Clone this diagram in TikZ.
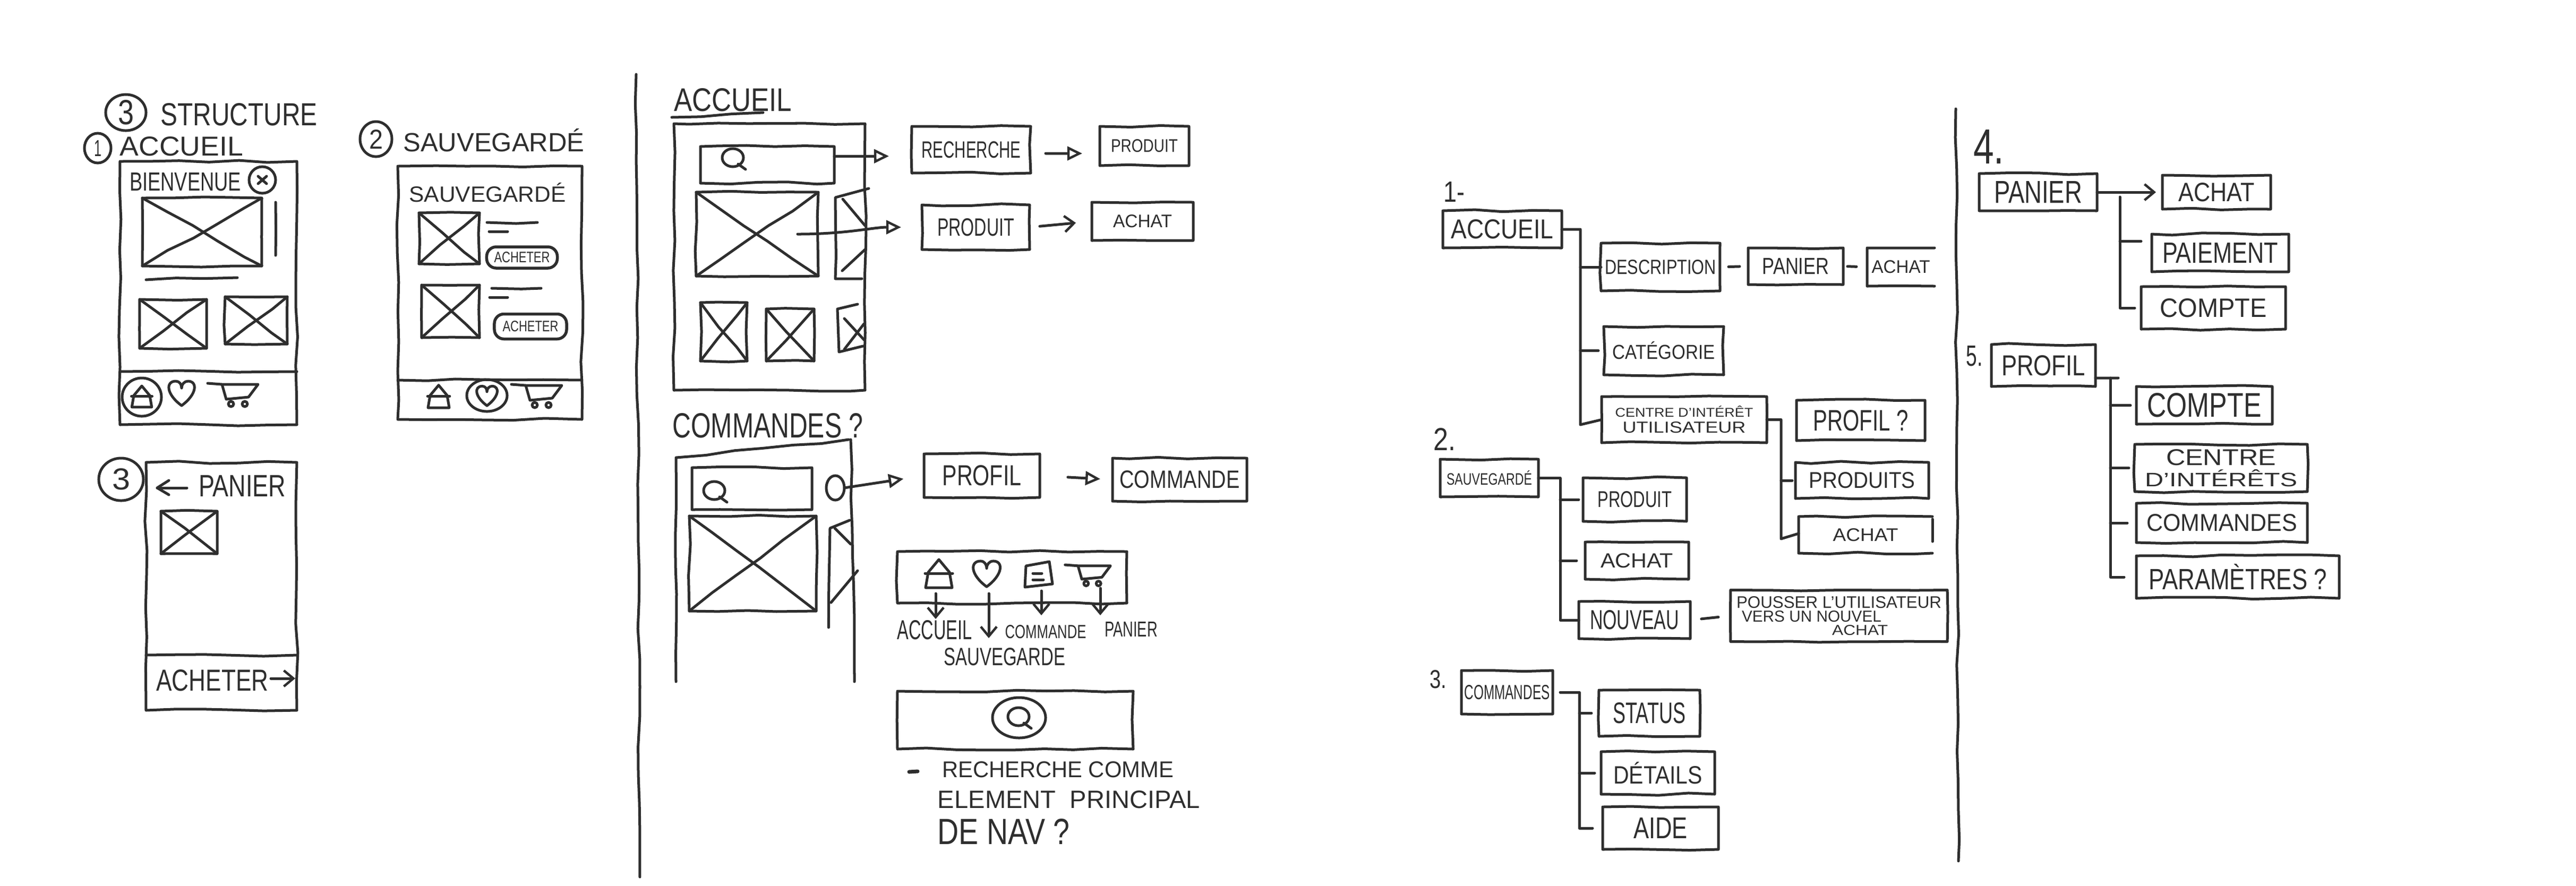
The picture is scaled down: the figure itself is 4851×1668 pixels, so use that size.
\documentclass[tikz,border=0pt]{standalone}
\usepackage{fontspec}
\usepackage{graphicx}
\setmainfont{Liberation Sans}
\usetikzlibrary{arrows.meta,decorations.pathmorphing,shapes.geometric,calc}
\definecolor{ink}{HTML}{2E2E2E}
\newlength\hwu \setlength\hwu{0.01cm}
\newcommand{\hw}[3]{\resizebox{#1\hwu}{#2\hwu}{\color{ink}#3}}
\tikzset{
  sk/.style={draw=ink,line width=.05cm,line cap=round,line join=round,decorate,
    decoration={random steps,segment length=.55cm,amplitude=.022cm}},
  skbox/.style={sk,rectangle,inner sep=0pt,outer sep=0pt,align=center},
  plainbox/.style={rectangle,inner sep=0pt,outer sep=0pt,align=center},
  lab/.style={inner sep=0pt,outer sep=0pt,align=center},
  circ/.style={ellipse,draw=ink,line width=.05cm,inner sep=0pt,outer sep=0pt},
  pill/.style={rectangle,draw=ink,line width=.055cm,rounded corners=.18cm,inner sep=0pt,outer sep=0pt},
  conn/.style={draw=ink,line width=.05cm,line cap=round,line join=round},
  tipopen/.style={conn,-{Triangle[open,length=.28cm,width=.26cm,line width=.045cm]}},
  tipbarb/.style={conn,-{Straight Barb[length=.18cm,width=.3cm,line width=.045cm]}},
  icon/.style={draw=ink,line width=.05cm,line cap=round,line join=round},
}
\newcommand{\bx}[6]{\node[skbox,minimum width={(#4-#2)*0.01cm},minimum height={(#5-#3)*0.01cm}] (#1) at ({(#2+#4)/2},{(#3+#5)/2}) {#6};}
\newcommand{\opn}[6]{\node[plainbox,minimum width={(#4-#2)*0.01cm},minimum height={(#5-#3)*0.01cm}] (#1) at ({(#2+#4)/2},{(#3+#5)/2}) {#6};
  \draw[sk] (#1.north east) -- (#1.north west) -- (#1.south west) -- (#1.south east);}
\newcommand{\ximg}[5]{\bx{#1}{#2}{#3}{#4}{#5}{}
  \draw[sk] (#1.north west) -- (#1.south east);
  \draw[sk] (#1.south west) -- (#1.north east);}
\newcommand{\lab}[6]{\node[lab] (#1) at (#2,#3) {\hw{#4}{#5}{#6}};}
\newcommand{\homeic}[3]{\begin{scope}[shift={(#1,#2)},scale=#3]
  \draw[icon] (-25,25) -- (-20,-4) -- (0,-28) -- (20,-4) -- (25,25) -- cycle;
  \draw[icon] (-26,-2) -- (26,-2);\end{scope}}
\newcommand{\heartic}[3]{\begin{scope}[shift={(#1,#2)},scale=#3]
  \draw[icon] (0,24) .. controls (-30,2) and (-30,-22) .. (-11,-22) .. controls (-4,-22) and (0,-16) .. (0,-9) .. controls (0,-16) and (5,-22) .. (12,-22) .. controls (30,-22) and (30,2) .. (0,24);\end{scope}}
\newcommand{\cartic}[3]{\begin{scope}[shift={(#1,#2)},scale=#3]
  \draw[icon] (-47,-20) -- (-20,-18) -- (-12,10) -- (30,6) -- (48,-18) -- (-20,-18);
  \draw[icon] (-3,19) circle [radius=5];
  \draw[icon] (23,19) circle [radius=5];\end{scope}}
\newcommand{\magic}[2]{\draw[icon] (#1,#2) ellipse [x radius=20,y radius=17];
  \draw[icon] (#1+10,#2+12) -- (#1+24,#2+22);}
\begin{document}
\begin{tikzpicture}[x=0.01cm,y=-0.01cm]
\pgfmathsetseed{12}
\useasboundingbox (0,0) rectangle (4851,1668);
% --- panel 1
\node[circ,minimum width=.76cm,minimum height=.68cm] (c0) at (237,212) {\hw{30}{46}{3}};
\lab{t0}{450}{216}{295}{42}{STRUCTURE}
\node[circ,minimum width=.5cm,minimum height=.56cm] (c1) at (184,279) {\hw{14}{30}{1}};
\lab{t1}{342}{276}{232}{36}{ACCUEIL}
\bx{phA}{226}{304}{559}{800}{}
\lab{t2}{349}{343}{210}{34}{BIENVENUE}
\node[circ,minimum width=.5cm,minimum height=.5cm] (cx) at (494,339) {};
\draw[icon] (486,332) -- (502,346) (502,332) -- (486,346);
\ximg{a1}{268}{373}{493}{501}
\draw[sk] (519,381) -- (519,481);
\draw[sk] (275,527) -- (447,523);
\ximg{a2}{263}{564}{389}{656}
\ximg{a3}{424}{559}{541}{648}
\draw[sk] (226,700) -- (559,700);
\node[circ,minimum width=.74cm,minimum height=.72cm] (c1h) at (267,748) {};
\homeic{267}{748}{0.75}
\heartic{342}{740}{1}
\cartic{438}{742}{1}
% phone B
\node[circ,minimum width=.6cm,minimum height=.66cm] (c2) at (708,262) {\hw{26}{36}{2}};
\lab{t3}{930}{264}{341}{43}{SAUVEGARDÉ}
\bx{phB}{749}{313}{1096}{790}{}
\lab{t4}{918}{363}{295}{36}{SAUVEGARDÉ}
\ximg{b1}{789}{401}{903}{497}
\draw[sk] (917,419) -- (1012,419);
\draw[sk] (921,436) -- (956,436);
\node[pill,minimum width=1.33cm,minimum height=.4cm] (btn1) at (983,485) {\hw{105}{20}{ACHETER}};
\ximg{b2}{794}{537}{903}{636}
\draw[sk] (926,543) -- (1019,543);
\draw[sk] (922,560) -- (956,560);
\node[pill,minimum width=1.36cm,minimum height=.47cm] (btn2) at (999,615) {\hw{105}{20}{ACHETER}};
\draw[sk] (749,716) -- (1096,716);
\homeic{826}{748}{0.8}
\node[circ,minimum width=.76cm,minimum height=.6cm] (c2h) at (917,745) {};
\heartic{917}{745}{0.8}
\cartic{1010}{744}{1}
% phone C
\node[circ,minimum width=.84cm,minimum height=.8cm] (c3) at (228,903) {\hw{34}{40}{3}};
\bx{phC}{275}{871}{559}{1338}{}
\draw[conn] (352,919) -- (296,919);
\draw[conn] (318,905) -- (296,919) -- (318,932);
\lab{t5}{456}{915}{164}{40}{PANIER}
\ximg{c1i}{303}{963}{409}{1043}
\draw[sk] (275,1234) -- (559,1234);
\lab{t6}{400}{1282}{211}{40}{ACHETER}
\draw[tipbarb] (510,1278) -- (556,1278);
% separator 1
\draw[sk] (1198,140) -- (1205,1652);
% --- panel 2 : accueil
\lab{t7}{1380}{188}{222}{43}{ACCUEIL}
\draw[sk] (1265,221) -- (1437,212);
\bx{phD}{1269}{233}{1629}{735}{}
\bx{sb}{1319}{276}{1571}{345}{}
\magic{1380}{297}
\ximg{d1}{1311}{362}{1541}{520}
\draw[sk] (1636,355) -- (1573,372) -- (1573,525) -- (1623,525);
\draw[sk] (1587,375) -- (1629,425);
\draw[sk] (1586,510) -- (1629,470);
\ximg{d2}{1319}{570}{1407}{680}
\ximg{d3}{1443}{582}{1533}{680}
\draw[sk] (1615,573) -- (1577,582) -- (1580,663) -- (1625,652);
\draw[sk] (1590,600) -- (1627,640);
\draw[sk] (1590,658) -- (1627,610);
\bx{rech}{1717}{238}{1941}{326}{\hw{187}{31}{RECHERCHE}}
\bx{prod1}{2071}{238}{2239}{312}{\hw{126}{24}{PRODUIT}}
\bx{prod2}{1736}{386}{1939}{470}{\hw{145}{33}{PRODUIT}}
\bx{ach1}{2056}{381}{2247}{453}{\hw{111}{24}{ACHAT}}
\coordinate (a2s) at (1502,441);
\draw[tipopen,shorten >=.43cm] ([yshift=.16cm]sb.east) -- ([yshift=-.12cm]rech.west);
\draw[tipopen,shorten >=.39cm] (a2s) to[out=0,in=180] (prod2.west);
\draw[tipopen,shorten <=.28cm,shorten >=.33cm] ([yshift=-.07cm]rech.east) -- ([yshift=-.14cm]prod1.west);
\draw[tipbarb,shorten <=.19cm,shorten >=.3cm] (prod2.east) -- (ach1.west);
% commandes
\lab{t8}{1446}{802}{359}{46}{COMMANDES ?}
\draw[sk] (1273,1284) -- (1273,862) -- (1598,828);
\draw[sk] (1602,828) -- (1609,1284);
\bx{sc}{1303}{881}{1529}{960}{}
\magic{1345}{924}
\node[circ,minimum width=.34cm,minimum height=.46cm] (gear) at (1573,919) {};
\ximg{e1}{1298}{972}{1537}{1151}
\draw[sk] (1600,980) -- (1563,995) -- (1561,1138) -- (1603,1125);
\draw[sk] (1572,995) -- (1602,1025);
\draw[sk] (1565,1135) -- (1615,1075);
\bx{prof}{1740}{855}{1958}{937}{\hw{149}{38}{PROFIL}}
\bx{cmd}{2095}{863}{2348}{944}{\hw{226}{33}{COMMANDE}}
\draw[tipopen,shorten >=.39cm] (gear.east) -- (prof.west);
\draw[tipopen,shorten <=.53cm,shorten >=.23cm] (prof.east) -- (cmd.west);
% nav bar
\bx{nav}{1690}{1039}{2122}{1136}{}
\homeic{1768}{1082}{1}
\heartic{1858}{1080}{1.05}
\draw[icon] (1932,1066) -- (1976,1058) -- (1982,1100) -- (1930,1106) -- cycle;
\draw[icon] (1945,1080) -- (1962,1080) (1945,1092) -- (1965,1092);
\cartic{2048}{1082}{0.9}
\node[lab] (l1) at (1760,1187) {\hw{141}{36}{ACCUEIL}};
\node[lab] (l2) at (1892,1237) {\hw{229}{33}{SAUVEGARDE}};
\node[lab] (l3) at (1969,1190) {\hw{153}{25}{COMMANDE}};
\node[lab] (l4) at (2130,1185) {\hw{100}{28}{PANIER}};
\coordinate (n1) at (1762,1118);
\coordinate (n2) at (1862,1118);
\coordinate (n3) at (1961,1113);
\coordinate (n4) at (2072,1108);
\draw[tipbarb] (n1) -- (1762,1166);
\draw[tipbarb] (n2) -- (1862,1202);
\draw[tipbarb] (n3) -- (1961,1159);
\draw[tipbarb] (n4) -- (2072,1159);
% search bar
\bx{snav}{1690}{1302}{2134}{1411}{}
\node[circ,minimum width=1cm,minimum height=.76cm] (sc2) at (1919,1352) {};
\magic{1918}{1350}
\draw[draw=ink,line width=.07cm,line cap=round] (1712,1454) -- (1728,1453);
\lab{t9}{1992}{1450}{436}{30}{RECHERCHE COMME}
\lab{t10}{2013}{1506}{494}{33}{ELEMENT \ PRINCIPAL}
\lab{t11}{1890}{1566}{249}{48}{DE NAV ?}
% --- panel 3 : arbre
\lab{n1l}{2738}{361}{40}{38}{1-}
\bx{acc}{2717}{397}{2941}{467}{\hw{193}{36}{ACCUEIL}}
\bx{desc}{3015}{458}{3239}{548}{\hw{210}{27}{DESCRIPTION}}
\bx{pan}{3292}{467}{3471}{536}{\hw{126}{30}{PANIER}}
\opn{ach2}{3516}{467}{3643}{539}{\hw{110}{24}{ACHAT}}
\bx{cat}{3020}{615}{3246}{706}{\hw{193}{33}{CATÉGORIE}}
\bx{cen}{3016}{747}{3327}{834}{\hw{260}{21}{CENTRE D'INTÉRÊT}\\[-.12cm]\hw{232}{21}{UTILISATEUR}}
\bx{pr3}{3383}{754}{3625}{830}{\hw{179}{39}{PROFIL ?}}
\bx{prs}{3381}{871}{3632}{939}{\hw{200}{30}{PRODUITS}}
\opn{ach3}{3387}{973}{3639}{1042}{\hw{123}{24}{ACHAT}}
\draw[sk] (3639,978) -- (3639,1020);
\coordinate (t1) at (2976,800);
\coordinate (t1b) at (3354,1015);
\draw[conn] (acc.east) -| (t1) -- (cen.west);
\draw[conn] (t1 |- desc.west) -- (desc.west);
\draw[conn,shorten >=.1cm] (t1 |- cat.west) -- (cat.west);
\draw[conn,shorten <=.16cm,shorten >=.16cm] (desc.east) -- (pan.west);
\draw[conn,shorten <=.08cm,shorten >=.2cm] (pan.east) -- (ach2.west);
\draw[conn] (cen.east) -| (t1b) -- ([yshift=.1cm]t1b -| ach3.west);
\draw[conn,shorten >=.06cm] (t1b |- prs.west) -- (prs.west);
\lab{n2l}{2720}{827}{42}{42}{2.}
\bx{sav}{2712}{865}{2897}{936}{\hw{161}{27}{SAUVEGARDÉ}}
\bx{pd3}{2981}{900}{3176}{982}{\hw{140}{30}{PRODUIT}}
\bx{ac4}{2985}{1021}{3180}{1091}{\hw{137}{27}{ACHAT}}
\bx{nou}{2973}{1133}{3183}{1203}{\hw{168}{36}{NOUVEAU}}
\node[skbox,minimum width=4.08cm,minimum height=.97cm,align=left] (pou) at (3463,1160) {\hw{386}{22}{POUSSER L'UTILISATEUR}\\[-.16cm]\hspace*{.1cm}\hw{263}{21}{VERS UN NOUVEL}\\[-.18cm]\hspace*{1.8cm}\hw{105}{19}{ACHAT}};
\coordinate (t2) at (2938,1000);
\draw[conn] (sav.east) -| (t2) |- (nou.west);
\draw[conn,shorten >=.08cm] (t2 |- pd3.west) -- (pd3.west);
\draw[conn,shorten >=.16cm] (t2 |- ac4.west) -- (ac4.west);
\draw[conn,shorten <=.21cm,shorten >=.23cm] (nou.east) -- (pou.west);
\lab{n3l}{2708}{1280}{32}{34}{3.}
\bx{com}{2752}{1263}{2924}{1345}{\hw{161}{27}{COMMANDES}}
\bx{sta}{3011}{1300}{3201}{1387}{\hw{137}{39}{STATUS}}
\bx{det}{3015}{1416}{3229}{1496}{\hw{168}{41}{DÉTAILS}}
\bx{aid}{3018}{1520}{3236}{1600}{\hw{102}{39}{AIDE}}
\coordinate (t3) at (2974,1450);
\draw[conn,shorten <=.14cm] (com.east) -| (t3) |- ([xshift=-.19cm]aid.west);
\draw[conn,shorten >=.14cm] (t3 |- sta.west) -- (sta.west);
\draw[conn,shorten >=.12cm] (t3 |- det.west) -- (det.west);
% separator 2
\draw[sk] (3683,205) -- (3688,1622);
% --- panel 4
\lab{n4l}{3745}{276}{58}{64}{4.}
\bx{pa5}{3727}{327}{3949}{397}{\hw{166}{41}{PANIER}}
\bx{ac5}{4072}{330}{4276}{394}{\hw{143}{35}{ACHAT}}
\bx{pai}{4052}{441}{4310}{512}{\hw{218}{38}{PAIEMENT}}
\bx{co5}{4032}{540}{4304}{620}{\hw{201}{35}{COMPTE}}
\draw[tipbarb,shorten >=.12cm] (pa5.east) -- (ac5.west);
\coordinate (t4) at (3992,371);
\draw[conn,shorten >=.12cm] (t4) |- (co5.west);
\draw[conn] ([yshift=.22cm]t4 |- pai.west) -- ([xshift=-.2cm,yshift=.22cm]pai.west);
\lab{n5l}{3718}{671}{31}{38}{5.}
\bx{pr6}{3750}{649}{3946}{728}{\hw{158}{38}{PROFIL}}
\bx{co6}{4023}{728}{4279}{799}{\hw{215}{45}{COMPTE}}
\bx{ce6}{4020}{837}{4345}{926}{\hw{207}{30}{CENTRE}\\[-.02cm]\hw{287}{32}{D'INTÉRÊTS}}
\bx{cm6}{4023}{948}{4345}{1022}{\hw{284}{32}{COMMANDES}}
\bx{par}{4023}{1047}{4405}{1127}{\hw{336}{48}{PARAMÈTRES ?}}
\coordinate (t5) at (3974,712);
\draw[conn] ([yshift=.16cm]pr6.south east) -- (t5) -- ++(15,0);
\draw[conn,shorten >=.23cm] (t5) |- (par.west);
\draw[conn,shorten >=.11cm] (t5 |- co6.west) -- (co6.west);
\draw[conn,shorten >=.11cm] (t5 |- ce6.west) -- (ce6.west);
\draw[conn,shorten >=.17cm] (t5 |- cm6.west) -- (cm6.west);
\end{tikzpicture}
\end{document}
